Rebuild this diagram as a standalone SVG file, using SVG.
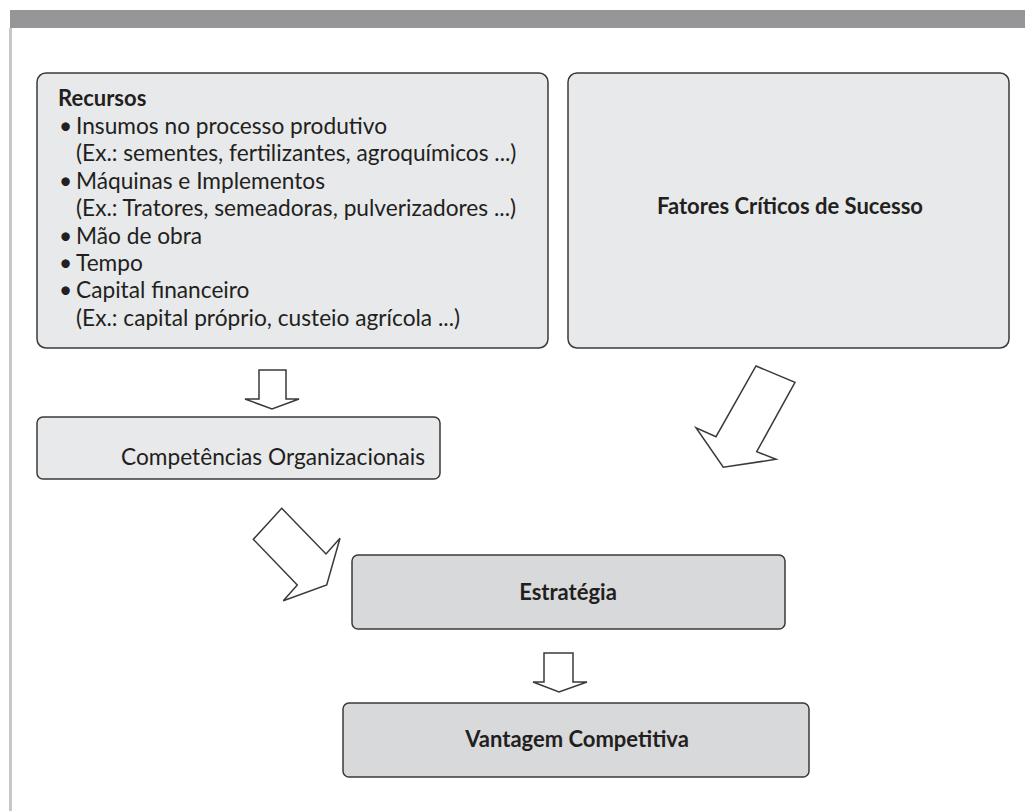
<svg xmlns="http://www.w3.org/2000/svg" width="1025" height="811" viewBox="0 0 1025 811">
  <style>
    .box-light { fill: #e8e9eb; stroke: #3a3a3a; stroke-width: 1.5; }
    .box-dark { fill: #d8d9db; stroke: #3a3a3a; stroke-width: 1.5; }
    .txt { font-family: Lato, "Open Sans", "Liberation Sans", sans-serif; fill: #231f20; font-size: 22.7px; }
    .bold { font-weight: bold; font-size: 22px; }
    .arrow { fill: #ffffff; stroke: #3a3a3a; stroke-width: 1.5; stroke-linejoin: miter; }
  </style>

  <!-- page frame -->
  <rect x="0" y="0" width="1025" height="811" fill="#ffffff"/>
  <rect x="10" y="10" width="1015" height="18" fill="#969698"/>
  <rect x="9" y="28" width="3" height="783" fill="#c8c8ca"/>

  <!-- resources -->
  <g id="recursos">
    <rect class="box-light" x="37" y="73" width="511" height="275" rx="9"/>
    <text class="txt bold" x="58" y="106">Recursos</text>
    <g class="txt">
      <text x="59" y="134">•</text><text x="76" y="134">Insumos no processo produtivo</text>
      <text x="76" y="161">(Ex.: sementes, fertilizantes, agroquímicos ...)</text>
      <text x="59" y="189">•</text><text x="76" y="189">Máquinas e Implementos</text>
      <text x="76" y="216">(Ex.: Tratores, semeadoras, pulverizadores ...)</text>
      <text x="59" y="244">•</text><text x="76" y="244">Mão de obra</text>
      <text x="59" y="271">•</text><text x="76" y="271">Tempo</text>
      <text x="59" y="298">•</text><text x="76" y="298">Capital financeiro</text>
      <text x="76" y="326">(Ex.: capital próprio, custeio agrícola ...)</text>
    </g>
  </g>

  <!-- critical success factors -->
  <g id="fatores">
    <rect class="box-light" x="568" y="73" width="441" height="275" rx="9"/>
    <text class="txt bold" x="790" y="214" text-anchor="middle">Fatores Críticos de Sucesso</text>
  </g>

  <!-- organizational competences -->
  <g id="competencias">
    <rect class="box-light" x="37" y="417" width="403" height="62" rx="6"/>
    <text class="txt" x="273" y="465" text-anchor="middle">Competências Organizacionais</text>
  </g>

  <!-- strategy -->
  <g id="estrategia">
    <rect class="box-dark" x="352" y="555" width="433" height="74" rx="6"/>
    <text class="txt bold" x="568" y="600" text-anchor="middle">Estratégia</text>
  </g>

  <!-- competitive advantage -->
  <g id="vantagem">
    <rect class="box-dark" x="343" y="703" width="466" height="74" rx="6"/>
    <text class="txt bold" x="577" y="747" text-anchor="middle">Vantagem Competitiva</text>
  </g>

  <!-- block arrows -->
  <g id="connectors">
    <polygon class="arrow" points="259,370 286,370 286,399 299,399 272,409 245,399 259,399"/>
    <polygon class="arrow" points="756,366 795,382.3 756.7,451.7 776,459.3 723.3,467.3 696,427.7 716,436.7"/>
    <polygon class="arrow" points="281.7,508.3 326,554 340,538.3 326.7,585 283.3,600.7 297.3,585 253.3,539.3"/>
    <polygon class="arrow" points="544,653 573,653 573,682 587,682 559,692 533,682 544,682"/>
  </g>
</svg>
